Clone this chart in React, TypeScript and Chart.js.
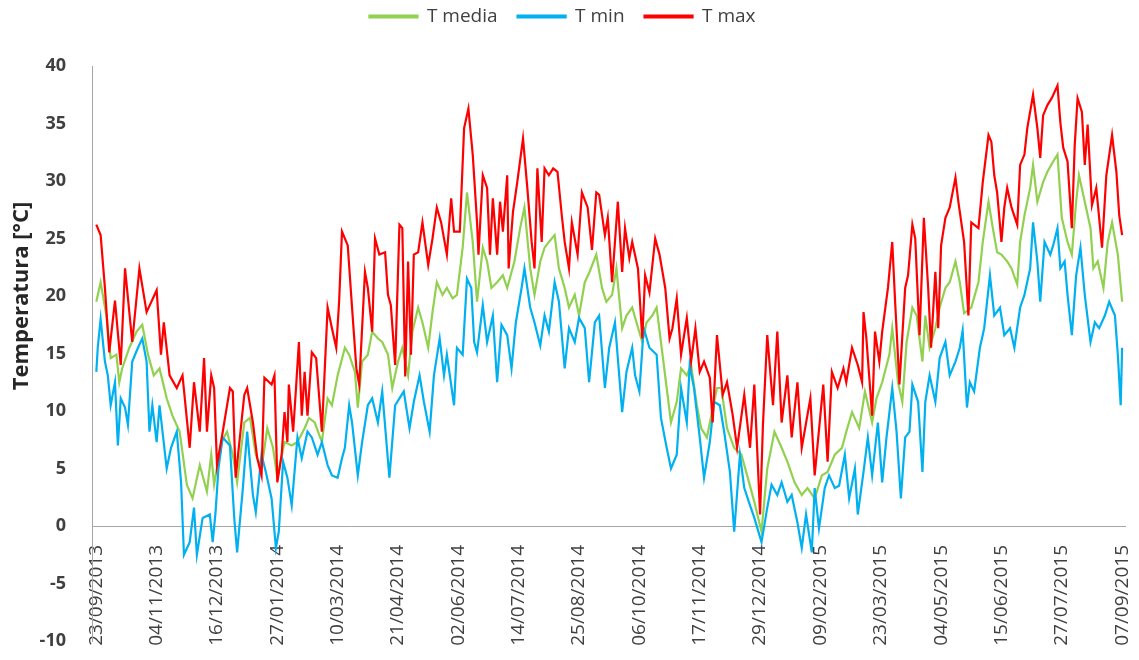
import React, { useEffect, useRef } from "react";
import { Chart, registerables } from "chart.js";

Chart.register(...registerables);

// ---- data ----
const tickDays = [0, 42, 84, 126, 168, 210, 252, 294, 336, 378, 420, 462, 504, 546, 588, 630, 672, 714];
const tickLabels = [
  "23/09/2013", "04/11/2013", "16/12/2013", "27/01/2014", "10/03/2014", "21/04/2014",
  "02/06/2014", "14/07/2014", "25/08/2014", "06/10/2014", "17/11/2014", "29/12/2014",
  "09/02/2015", "23/03/2015", "04/05/2015", "15/06/2015", "27/07/2015", "07/09/2015",
];
const seriesNames = ["T media", "T min", "T max"];
const yTitle = "Temperatura [°C]";

const mediaDays = [0,3,7,10,14,16,18,23,28,32,36,40,44,49,53,58,63,67,72,77,80,82,87,91,95,98,103,107,111,115,119,123,126,131,136,140,145,148,152,157,161,164,168,173,176,180,182,185,189,192,196,199,203,206,210,213,217,220,224,227,231,234,237,241,244,248,251,255,258,262,265,269,272,275,279,283,286,291,295,298,302,305,309,312,315,319,322,326,329,333,336,340,343,348,352,355,359,362,366,369,373,376,380,383,387,390,393,397,400,404,407,411,414,418,421,425,428,432,435,439,444,449,453,458,463,467,472,477,481,486,491,495,500,505,509,514,519,522,526,531,535,540,543,547,552,554,558,561,564,568,571,575,577,580,584,587,591,594,598,601,604,609,614,617,621,624,627,630,634,637,641,643,646,650,652,655,659,662,666,669,672,676,679,682,684,688,692,694,697,701,704,707,711,714];
const mediaVals = [19.5,21.2,18.3,14.6,14.9,12.5,13.7,15.5,16.9,17.5,14.9,13.1,13.7,11.1,9.6,8.2,3.6,2.4,5.3,3,6.2,3.6,7.3,8.2,6.2,3.8,9,9.4,6.2,5,8.5,6.8,4.2,7.3,7,7.3,8.5,9.4,9,7.3,11.1,10.5,13.1,15.5,14.9,13.4,10.3,14.3,14.9,16.9,16.3,16,14.9,12,14.3,15.5,13.1,16.9,19,17.7,15.5,18.6,21.2,20.1,20.7,19.8,20.1,24.2,29,24.7,19.5,24.2,23,20.7,21.2,21.8,20.7,23,25.9,27.7,22.4,20.1,23,24.2,24.7,25.3,22.4,20.7,19,20.1,18.3,21.2,22,23.6,20.7,19.5,20.1,22.4,17.2,18.3,19,17.7,16,17.7,18.3,19,16,12,9,10.8,13.7,13.1,14,10.5,8.5,7.7,9.6,12,12,8.5,6.8,6.2,4.4,2.1,-0.5,5,8.2,6.8,5.6,3.8,2.7,3.3,2.4,4.4,4.7,6.2,6.8,8.2,9.9,8.5,11.7,9,11.1,12.5,14.9,17.2,12.5,10.8,16,19,18.3,14.3,18.3,15.5,17.2,19,20.7,21.2,23,21.2,18.5,19,21.2,24.7,28.2,25.9,23.8,23.6,23,22.4,21,24.7,27,29.4,31.4,28.2,29.9,30.8,31.7,32.3,26.8,24.7,23.6,28.2,30.5,28.2,25.9,22.4,23,20.7,24.7,26.4,23.6,19.5];

const minDays = [0,1,3,6,8,10,13,15,17,20,22,25,29,32,35,37,39,42,44,49,52,56,59,61,65,68,70,74,79,81,83,85,88,93,96,98,102,105,109,111,115,118,122,125,127,130,133,136,140,143,147,150,154,157,161,164,168,171,173,176,178,182,185,189,192,196,199,204,208,211,214,218,221,225,228,232,235,239,242,244,249,251,255,258,261,263,265,269,272,276,279,282,286,289,292,296,298,302,305,309,312,315,319,322,326,329,333,336,340,343,347,350,354,357,361,366,369,373,375,378,381,385,390,393,397,400,404,407,411,413,416,420,423,427,430,434,437,441,444,448,451,455,458,463,467,470,474,477,481,484,488,491,494,498,500,503,507,510,514,517,521,524,528,530,534,537,540,544,547,550,554,557,560,563,566,568,572,575,577,580,584,587,591,594,598,601,603,606,608,611,615,618,622,625,629,632,636,639,643,646,650,652,655,657,660,664,666,669,671,674,676,679,682,685,688,692,695,698,702,705,709,711,713,714];
const minVals = [13.4,15.5,18,14.3,13.1,10.5,12.5,7,11.1,10.3,8.8,14.3,15.5,16.3,14.3,8.2,10.5,7.3,10.5,5,6.8,8.2,3.8,-2.5,-1.4,1.6,-2.5,0.7,1,-1.4,1.2,5,7.7,7,0.7,-2.3,3.3,8.2,2.7,1.2,6.2,4.7,2.4,-1.9,-0.5,5.6,4.2,1.8,7.7,5.9,8.2,7.7,6.2,7.3,5.3,4.4,4.2,5.9,6.8,10.5,9,4.4,7.3,10.5,11.1,9,11.7,4.2,10.5,11.1,11.7,8.5,10.8,13.1,10.8,8.2,13.1,16.3,13.1,14.9,10.5,15.5,14.9,21.5,20.7,16,15.1,19.2,16,18.3,12.5,17.5,16.6,13.7,17.7,20.7,22.4,19,17.7,15.7,18.3,16.9,21.2,19.5,13.7,17.2,16,18.1,17.2,12.5,17.7,18.3,12,15.5,17.7,9.9,13.4,15.5,13.1,11.7,17.2,15.5,14.9,9.4,6.8,5,6.2,12,9,14,12,7.7,4.2,7.3,10.8,10.5,8.2,4.7,-0.5,6.2,3.3,1.8,0.7,-1.4,1.6,3.6,2.7,3.8,2.1,2.7,0.3,-1.9,1,-2.3,3.3,-0.2,3.3,4.4,3.3,3.5,6.2,2.4,5,1,4.7,7.7,4.4,9,3.8,7.7,12,8.2,2.4,7.7,8.2,12.3,10.8,4.7,10.8,13.1,10.8,14.6,16,13.1,14.3,15.5,17,10.3,12.5,11.7,15.5,17.2,21.8,18.3,19,16.6,17.2,15.5,19,20.1,22.4,26.4,23,19.5,24.7,23.6,24.4,25.9,22.4,23,20.1,16.6,21.8,24.2,20.1,16,17.7,17.2,18.3,19.5,18.3,14.9,10.5,15.5];

const maxDays = [0,3,6,9,13,17,20,25,30,35,42,45,47,51,56,60,65,68,72,75,77,80,82,84,88,93,95,97,103,105,109,112,115,117,122,124,126,129,131,133,134,137,139,141,143,145,147,150,153,157,161,164,167,169,171,175,178,181,183,187,189,192,194,197,201,203,205,208,211,213,215,217,219,221,224,227,231,234,237,240,244,247,249,253,256,259,262,265,266,269,272,274,276,279,281,283,286,287,290,293,297,300,303,305,307,310,312,315,318,321,324,326,329,331,335,338,342,345,348,350,354,356,359,363,366,368,371,373,377,380,382,385,389,392,396,399,401,404,407,411,414,417,420,423,427,429,432,436,439,443,446,451,455,458,462,464,467,471,474,477,481,484,488,491,497,500,506,509,512,516,520,522,526,530,533,534,536,540,542,545,547,551,554,556,559,563,565,568,570,573,576,579,581,584,586,588,591,594,598,600,604,607,609,614,617,621,623,625,627,630,632,634,637,641,643,646,648,652,655,657,659,662,665,669,671,673,676,679,681,683,686,688,690,693,696,700,703,707,710,712,714];
const maxVals = [26.2,25.3,20.7,15.1,19.6,14,22.4,16,22.4,18.6,20.5,14.9,17.7,13.1,12,13.1,6.8,12.5,8.2,14.6,8.2,13.1,12,5.3,8.2,12,11.7,4.2,11.4,12,9,5.9,4.4,12.9,12.3,13.1,3.8,6.2,9.9,7.3,12.3,8.2,12,16,9.6,13.4,9.6,15.1,14.6,8.2,19,17.2,15.5,19.5,25.6,24.4,19,13.7,12.3,22.1,20.7,16.9,25,23.6,23.8,20.1,19.2,14,26.2,25.9,13,23,14.9,23.6,23.8,26.4,22.7,25,27.7,26.4,23.6,28.5,25.6,25.6,34.6,36.3,32.3,26.4,23.6,30.5,29.4,23.6,28.5,23.6,28.2,25.6,30.5,22.4,27.3,29.9,33.7,29.4,24.7,22.4,31.1,24.7,31.1,30.5,31.1,30.8,27,24.7,22.4,26.4,23.6,29,27.7,24,29,28.8,25.3,26.8,21.2,28.2,22.1,25.9,23.3,24.7,22.4,16.3,21.8,20.3,25,23.6,20.7,16.3,17.2,19.8,14.9,18.1,14.3,17.2,13.4,14.3,12.9,9,16.6,11.4,12.5,9.6,6.8,11.4,6.8,12.3,1,8.8,16.6,10.5,16.9,9,13.1,7.7,12.5,6.8,11.1,4.4,12.3,5.6,13.4,12,13.7,12.5,15.5,14,12.5,18.6,16.3,9.6,16.9,14.3,16.9,20.7,24.7,19.5,12.3,20.7,21.8,26.2,25,16.6,26.8,20.7,15.5,22.1,17.2,24.4,26.8,27.7,30.3,28.2,24.7,18.3,26.4,25.9,29.9,34,33.4,30.5,29,24.7,27.7,29.4,27.7,26.2,31.4,32.3,34.6,37.5,34.6,32,35.7,36.6,37.2,38.3,35.1,32.9,31.7,25.9,33.1,37.2,36,31.4,34.9,27.9,29.4,24.2,30.5,34,30.8,27,25.3];

const seriesColors = ["#92D050", "#00B0F0", "#FF0000"];

const toPoints = (days: number[], vals: number[]) => days.map((d, i) => ({ x: d, y: vals[i] }));

const FONT = "'Open Sans', 'Liberation Sans', sans-serif";
const TOP_SHIFT = 13; // canvas is moved up by this many px

const legendHeightPlugin = {
  id: "legendHeight",
  beforeLayout(chart: any) {
    const legend = chart.legend;
    if (!legend || legend.__patched) return;
    const orig = legend.fit;
    legend.fit = function () {
      orig.call(this);
      this.height = 66 + TOP_SHIFT;
    };
    legend.__patched = true;
  },
};

const yTitlePlugin = {
  id: "yTitleText",
  afterDraw(chart: any) {
    const ctx = chart.ctx;
    ctx.save();
    ctx.translate(22, 296 + TOP_SHIFT);
    ctx.rotate(-Math.PI / 2);
    ctx.font = `bold 22px ${FONT}`;
    ctx.fillStyle = "#262626";
    ctx.textAlign = "center";
    ctx.textBaseline = "middle";
    ctx.fillText(yTitle, 0, 0);
    ctx.restore();
  },
};

export default function App() {
  const ref = useRef<HTMLCanvasElement | null>(null);

  useEffect(() => {
    if (!ref.current) return;
    const chart = new Chart(ref.current, {
      type: "line",
      data: {
        datasets: [
          { label: seriesNames[0], data: toPoints(mediaDays, mediaVals), borderColor: seriesColors[0], backgroundColor: seriesColors[0], borderWidth: 2.2, pointRadius: 0, order: 3 },
          { label: seriesNames[1], data: toPoints(minDays, minVals), borderColor: seriesColors[1], backgroundColor: seriesColors[1], borderWidth: 2.2, pointRadius: 0, order: 2 },
          { label: seriesNames[2], data: toPoints(maxDays, maxVals), borderColor: seriesColors[2], backgroundColor: seriesColors[2], borderWidth: 2.2, pointRadius: 0, order: 1 },
        ],
      },
      options: {
        responsive: false,
        animation: false,
        layout: { padding: { left: 0, top: 0, right: 14, bottom: 19 } },
        plugins: {
          legend: {
            position: "top",
            labels: {
              boxWidth: 48,
              boxHeight: 2,
              padding: 20,
              color: "#404040",
              font: { family: FONT, size: 19 },
              sort: (a: any, b: any) => a.datasetIndex - b.datasetIndex,
            },
          },
          tooltip: { enabled: false },
        },
        scales: {
          x: {
            type: "linear",
            position: { y: 0 } as any,
            min: -3,
            max: 716,
            grid: { display: false },
            border: { display: true, color: "#a6a6a6", width: 1 },
            afterBuildTicks: (scale: any) => {
              scale.ticks = tickDays.map((v) => ({ value: v }));
            },
            afterFit: (scale: any) => {
              scale.paddingLeft = 0;
              scale.paddingRight = 0;
            },
            ticks: {
              minRotation: 90,
              maxRotation: 90,
              autoSkip: false,
              padding: 11,
              color: "#404040",
              font: { family: FONT, size: 19 },
              callback: (value: any) => {
                const i = tickDays.indexOf(Number(value));
                return i >= 0 ? tickLabels[i] : "";
              },
            },
          },
          y: {
            type: "linear",
            min: -10,
            max: 40,
            grid: { display: false },
            border: { display: true, color: "#a6a6a6", width: 1 },
            afterFit: (scale: any) => {
              scale.width = 92;
              scale.paddingTop = 0;
              scale.paddingBottom = 0;
            },
            ticks: {
              stepSize: 5,
              padding: 18,
              color: "#404040",
              font: { family: FONT, size: 18, weight: "bold" },
            },
          },
        },
      },
      plugins: [legendHeightPlugin, yTitlePlugin],
    });
    return () => chart.destroy();
  }, []);

  return (
    <div style={{ position: "absolute", left: 0, top: -TOP_SHIFT, width: 1139, height: 660 + TOP_SHIFT }}>
      <canvas ref={ref} width={1139} height={660 + TOP_SHIFT} style={{ display: "block" }} />
    </div>
  );
}
